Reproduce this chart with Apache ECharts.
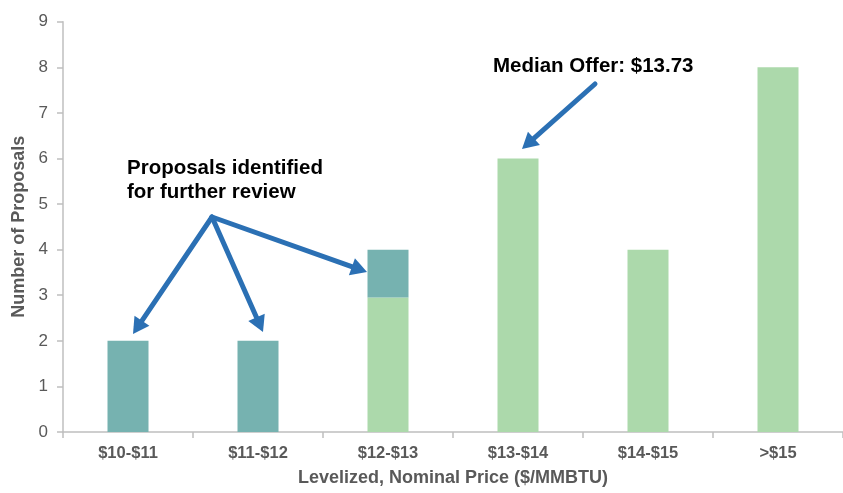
<!DOCTYPE html>
<html>
<head>
<meta charset="utf-8">
<script src="https://cdn.jsdelivr.net/npm/echarts@6/dist/echarts.min.js"></script>
<style>html,body{margin:0;padding:0;background:#fff}#c{width:843px;height:493px}</style>
</head>
<body>
<div id="c"></div>
<script>
const categories = ['$10-$11', '$11-$12', '$12-$13', '$13-$14', '$14-$15', '>$15'];
const otherProposals = [0, 0, 2.95, 6, 4, 8];
const reviewProposals = [2, 2, 1.05, 0, 0, 0];
const yTicks = [0, 1, 2, 3, 4, 5, 6, 7, 8, 9];

const FONT = '"Liberation Sans", Arial, Helvetica, sans-serif';
const BLUE = '#2b70b4';

function arrow(x1, y1, x2, y2) {
  const dx = x2 - x1, dy = y2 - y1;
  const len = Math.sqrt(dx * dx + dy * dy);
  const ux = dx / len, uy = dy / len;
  const hl = 16, hw = 9;
  const bx = x2 - ux * hl, by = y2 - uy * hl;
  const px = -uy, py = ux;
  return [
    { type: 'line', shape: { x1: x1, y1: y1, x2: bx + ux * 2, y2: by + uy * 2 },
      style: { stroke: BLUE, lineWidth: 5, lineCap: 'round' }, z: 100 },
    { type: 'polygon', shape: { points: [[x2, y2], [bx + px * hw, by + py * hw], [bx - px * hw, by - py * hw]] },
      style: { fill: BLUE }, z: 100 }
  ];
}

const chart = echarts.init(document.getElementById('c'), null, { renderer: 'canvas' });
const graphics = [].concat(
  arrow(212, 217, 133, 334),
  arrow(212, 217, 263, 332),
  arrow(212, 217, 367, 272),
  arrow(595, 84, 522, 149),
  [
    { type: 'text', x: 127, y: 156, z: 101,
      style: { text: 'Proposals identified\nfor further review', font: 'bold 20.5px ' + FONT, fill: '#000', lineHeight: 24, verticalAlign: 'top' } },
    { type: 'text', x: 493, y: 54, z: 101,
      style: { text: 'Median Offer: $13.73', font: 'bold 20.5px ' + FONT, fill: '#000', lineHeight: 24, verticalAlign: 'top' } }
  ]
);

chart.setOption({
  animation: false,
  backgroundColor: '#fff',
  grid: { left: 63, top: 21.7, bottom: 61, right: -6 },
  xAxis: {
    type: 'category',
    data: categories,
    axisLine: { lineStyle: { color: '#bfbfbf', width: 1.5 } },
    axisTick: { show: true, length: 6, lineStyle: { color: '#bfbfbf', width: 1.5 } },
    axisLabel: { color: '#595959', fontWeight: 'bold', fontSize: 16.5, fontFamily: FONT, margin: 13 },
    name: 'Levelized, Nominal Price ($/MMBTU)',
    nameLocation: 'middle',
    nameGap: 37,
    nameTextStyle: { color: '#595959', fontWeight: 'bold', fontSize: 18, fontFamily: FONT }
  },
  yAxis: {
    type: 'value',
    min: yTicks[0],
    max: yTicks[yTicks.length - 1],
    interval: 1,
    splitLine: { show: false },
    axisLine: { show: true, lineStyle: { color: '#bfbfbf', width: 1.5 } },
    axisTick: { show: true, length: 6, lineStyle: { color: '#bfbfbf', width: 1.5 } },
    axisLabel: { color: '#595959', fontSize: 17, fontFamily: FONT, margin: 15 },
    name: 'Number of Proposals',
    nameLocation: 'middle',
    nameGap: 34,
    nameTextStyle: { color: '#595959', fontWeight: 'bold', fontSize: 18, fontFamily: FONT }
  },
  series: [
    { name: 'Other', type: 'bar', stack: 'a', data: otherProposals, barWidth: 41,
      itemStyle: { color: '#acd9ab' } },
    { name: 'Review', type: 'bar', stack: 'a', data: reviewProposals, barWidth: 41,
      itemStyle: { color: '#76b2b0' } }
  ],
  graphic: graphics
});
</script>
</body>
</html>
